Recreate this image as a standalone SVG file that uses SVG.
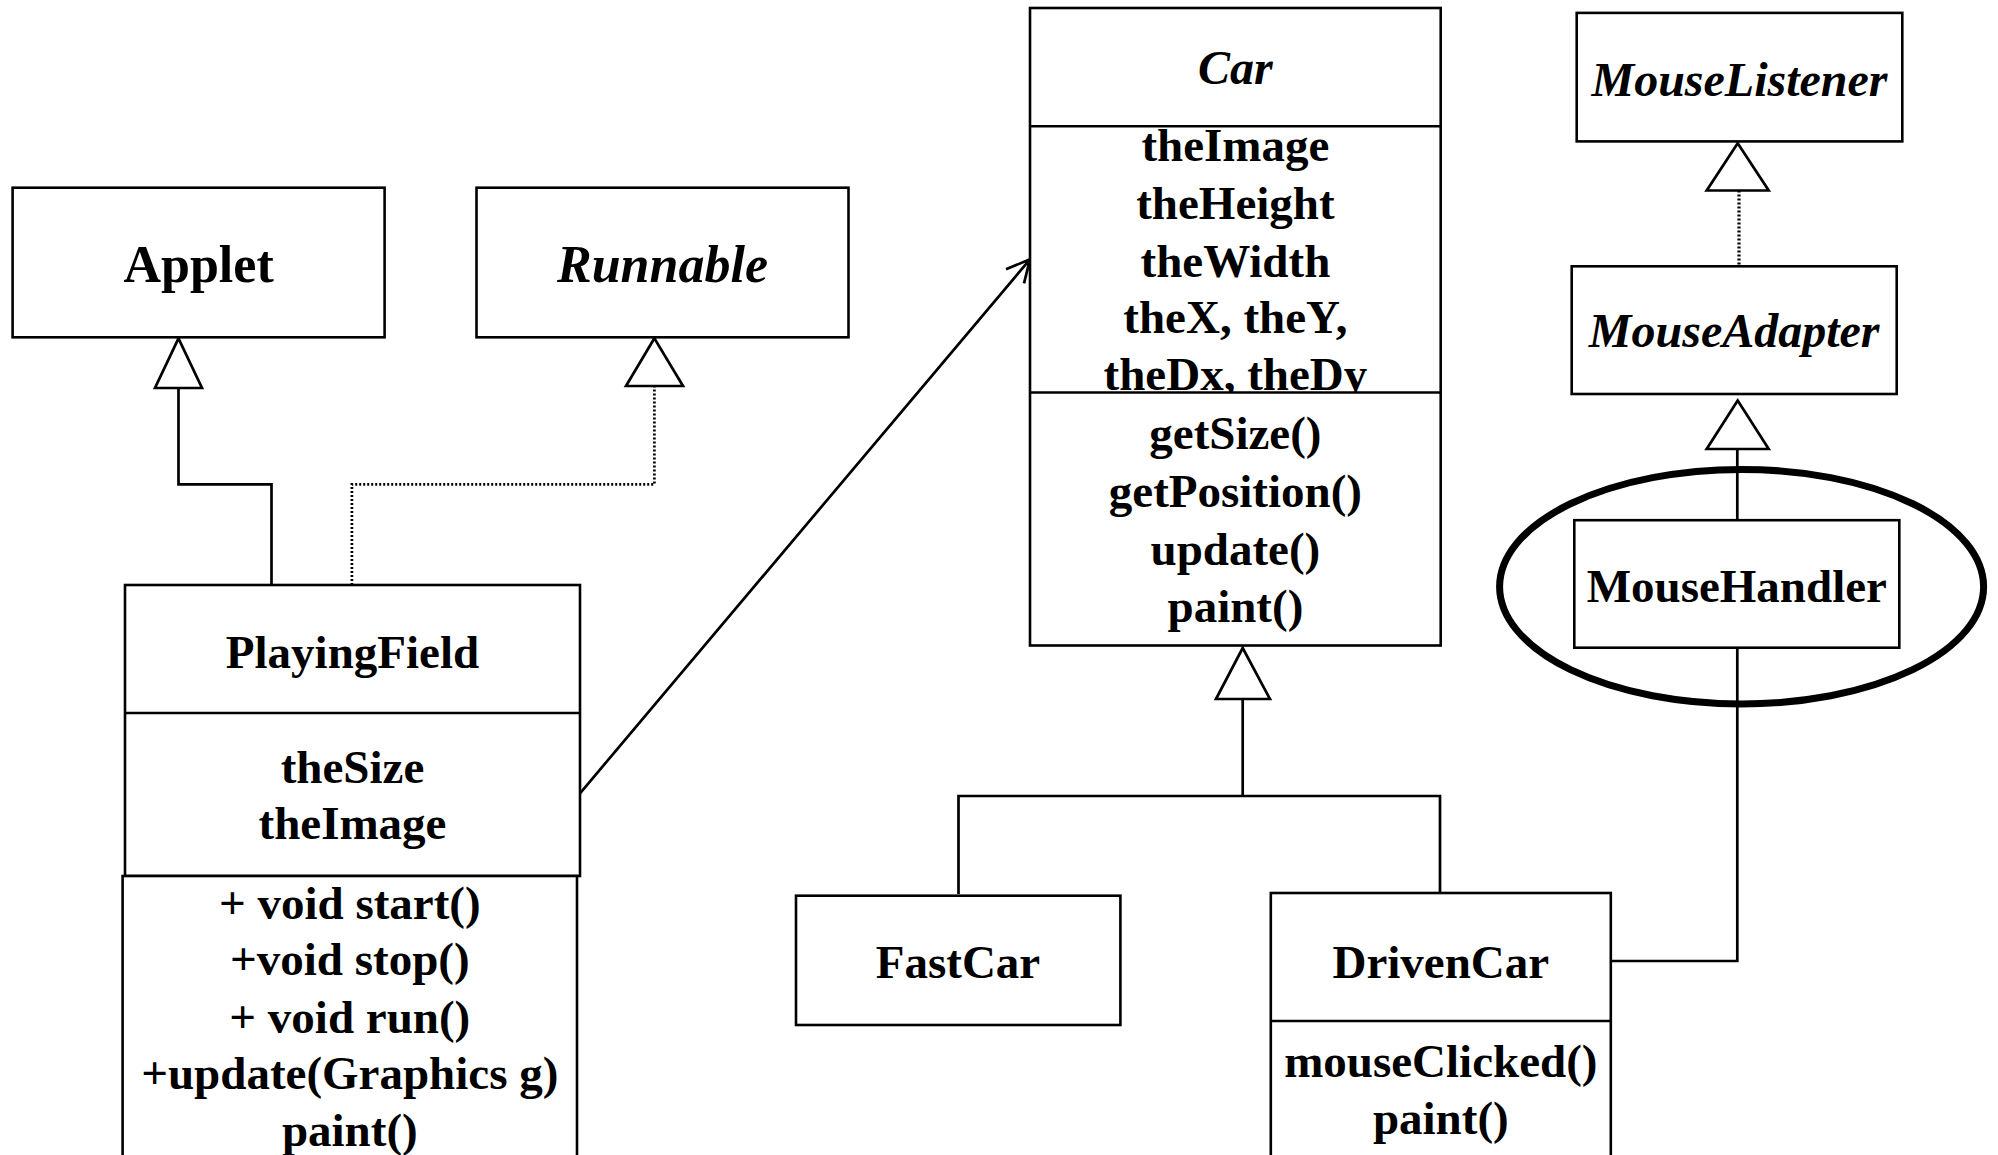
<svg xmlns="http://www.w3.org/2000/svg" width="1998" height="1155" viewBox="0 0 1998 1155">
<defs>
<style>
.box{fill:#fff;stroke:#000;stroke-width:2.6}
.div{stroke:#000;stroke-width:2.6}
.ln{fill:none;stroke:#000;stroke-width:2.7}
.dot{fill:none;stroke:#000;stroke-width:2.7;stroke-dasharray:2 2}
.tri{fill:#fff;stroke:#000;stroke-width:2.7;stroke-linejoin:miter}
text{font-family:"Liberation Serif","Times New Roman",serif;font-weight:bold;font-size:47px;text-anchor:middle;fill:#000}
.it{font-style:italic}
.big{font-size:52px}
.i48{font-size:48px;font-style:italic}
</style>
<clipPath id="carAttr"><rect x="1030" y="127" width="411" height="265"/></clipPath>
</defs>

<g id="connectors">
<path class="ln" d="M271.5 585 V484.3 H178.5 V388"/>
<path class="dot" d="M351.9 585 V484.3 H654.4 V386"/>
<path class="ln" d="M580 793.3 L1030 259.3 M1006 269.3 L1030 259.3 L1024 283.3"/>
<path class="ln" d="M1242.7 699 V796 M958.5 894 V796 H1440 V893"/>
<path class="dot" d="M1739 190.5 V266.3" style="stroke-width:3.2"/>
<path class="ln" d="M1737.3 449 V520.2"/>
<path class="ln" d="M1737.3 648 V961 H1611"/>
<polygon class="tri" points="178.5,338.3 155,388 202,388"/>
<polygon class="tri" points="654.4,338.3 626,386 683,386"/>
<polygon class="tri" points="1242.7,648 1216,699 1270,699"/>
<polygon class="tri" points="1737.7,143.3 1706.7,190.5 1768.7,190.5"/>
<polygon class="tri" points="1737.7,400.4 1706.7,449 1768.7,449"/>
</g>

<g id="Applet">
<rect class="box" x="12.6" y="187.7" width="372" height="149.6"/>
<text class="big" x="198.6" y="282">Applet</text>
</g>

<g id="Runnable">
<rect class="box" x="476.5" y="187.7" width="372" height="149.6"/>
<text class="big it" x="662.5" y="282">Runnable</text>
</g>

<g id="PlayingField">
<rect class="box" x="125" y="585" width="455" height="291"/>
<line class="div" x1="125" y1="713" x2="580" y2="713"/>
<rect class="box" x="122.6" y="876" width="454.4" height="290"/>
<text x="352.5" y="668">PlayingField</text>
<text x="352.5" y="783">theSize</text>
<text x="352.5" y="839">theImage</text>
<text x="349.8" y="919">+ void start()</text>
<text x="349.8" y="975">+void stop()</text>
<text x="349.8" y="1033">+ void run()</text>
<text x="349.8" y="1089">+update(Graphics g)</text>
<text x="349.8" y="1146">paint()</text>
</g>

<g id="Car">
<rect class="box" x="1030" y="8" width="410.7" height="637.5"/>
<text class="i48" x="1235.4" y="84">Car</text>
<g clip-path="url(#carAttr)">
<text x="1235.4" y="161">theImage</text>
<text x="1235.4" y="219">theHeight</text>
<text x="1235.4" y="277">theWidth</text>
<text x="1235.4" y="333">theX, theY,</text>
<text x="1235.4" y="390">theDx, theDy</text>
</g>
<line class="div" x1="1030" y1="126.3" x2="1440.7" y2="126.3"/>
<line class="div" x1="1030" y1="392.5" x2="1440.7" y2="392.5"/>
<text x="1235.4" y="449">getSize()</text>
<text x="1235.4" y="507">getPosition()</text>
<text x="1235.4" y="565">update()</text>
<text x="1235.4" y="622">paint()</text>
</g>

<g id="FastCar">
<rect class="box" x="796" y="895.7" width="324.4" height="129.3"/>
<text x="958" y="978">FastCar</text>
</g>

<g id="DrivenCar">
<rect class="box" x="1270.8" y="893" width="340" height="280"/>
<line class="div" x1="1270.8" y1="1021" x2="1610.8" y2="1021"/>
<text x="1440.8" y="978">DrivenCar</text>
<text x="1440.8" y="1077">mouseClicked()</text>
<text x="1440.8" y="1134">paint()</text>
</g>

<g id="MouseListener">
<rect class="box" x="1576.7" y="12.9" width="325.6" height="128.5"/>
<text class="i48" x="1739.5" y="95.5">MouseListener</text>
</g>

<g id="MouseAdapter">
<rect class="box" x="1571.7" y="266.3" width="325" height="127.7"/>
<text class="i48" x="1734.2" y="346.6">MouseAdapter</text>
</g>

<g id="MouseHandler">
<rect class="box" x="1574.3" y="520.2" width="325" height="127.5"/>
<text x="1736.8" y="601.5">MouseHandler</text>
<ellipse cx="1741.6" cy="586.7" rx="242" ry="117.3" fill="none" stroke="#000" stroke-width="7"/>
</g>
</svg>
